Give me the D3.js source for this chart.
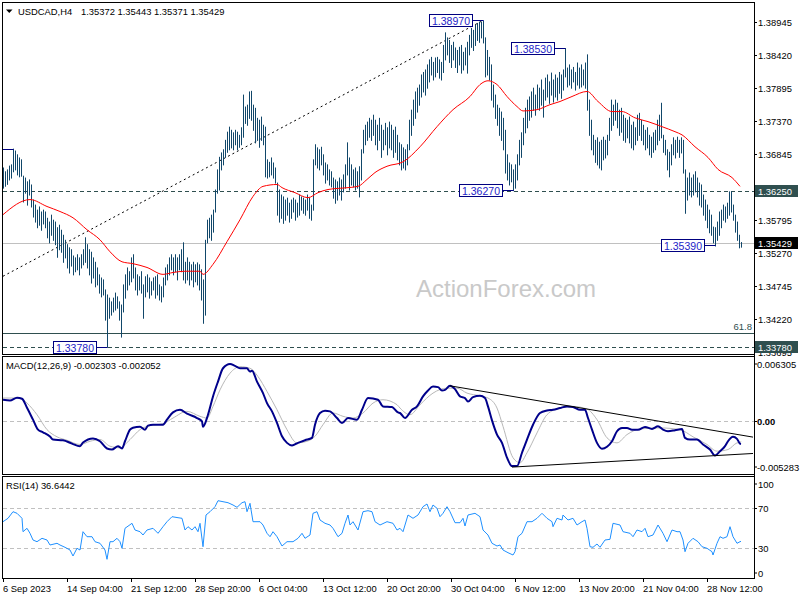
<!DOCTYPE html>
<html>
<head>
<meta charset="utf-8">
<script src="https://cdn.jsdelivr.net/npm/d3@7"></script>
<style>
  body { margin: 0; background: #fff; }
  svg { display: block; font-family: "Liberation Sans", Arial, sans-serif; }
</style>
</head>
<body>
<svg id="chart" width="800" height="600"></svg>
<script>
  var symbolName = 'USDCAD,H4';
  var lastQuote = '1.35372 1.35443 1.35371 1.35429';
  var macdTitle = 'MACD(12,26,9) -0.002303 -0.002052';
  var rsiTitle = 'RSI(14) 36.6442';

  // H4 bars from 6 Sep 2023 20:00, high / low in pips above 1.3000
  var highPips = [
    663,657,660,666,668,693,690,684,679,676, 650,647,641,644,636,612,604,596,601,593,
    596,593,583,577,588,580,577,568,572,564, 556,548,541,536,533,523,520,525,520,525,
    533,552,541,533,529,520,513,504,493,488, 485,469,461,456,450,456,464,458,450,445,
    477,493,504,498,520,525,504,493,490,498, 477,490,493,488,482,488,490,493,477,474,
    488,504,509,520,525,520,525,520,525,533, 544,513,520,513,509,513,509,512,509,501,
    485,548,580,583,588,596,628,660,680,687, 692,707,720,728,723,719,723,720,715,727,
    779,760,763,784,785,763,758,742,739,744, 731,728,676,672,679,671,663,639,628,620,
    617,612,615,607,612,615,612,607,620,617, 615,612,620,615,604,676,700,695,692,696,
    684,671,668,660,657,647,644,641,647,644, 652,668,703,679,668,660,663,657,665,692,
    723,731,736,742,739,747,739,731,742,731, 723,734,727,736,731,723,728,715,703,700,
    695,692,700,739,755,771,784,790,795,811, 815,819,827,835,839,831,838,839,835,831,
    858,878,870,866,858,863,854,850,855,858, 847,854,863,874,885,882,890,893,895,895,
    897,870,850,839,827,795,779,763,758,752, 742,723,684,671,668,660,668,684,707,719,
    742,758,771,776,784,790,779,795,790,803, 787,806,811,800,814,803,811,806,815,811,
    819,853,822,827,819,823,815,830,822,827, 819,830,843,771,739,715,707,711,704,707,
    712,707,715,742,771,763,771,766,755,758, 747,742,739,744,731,736,727,747,750,739,
    731,723,727,715,712,719,723,739,747,766, 715,707,692,688,700,711,707,712,707,711,
    707,660,647,655,647,652,657,647,639,636, 620,612,604,596,588,569,568,577,593,596,
    604,601,607,625,625,604,588,577,556,544.4
  ];
  var lowPips = [
    631,634,637,644,647,657,660,652,649,650, 609,623,604,620,601,585,577,568,572,564,
    574,568,552,544,556,548,541,521,533,529, 513,520,504,496,507,493,498,501,493,504,
    509,513,504,493,480,488,474,477,464,458, 461,421,378,424,429,434,437,440,421,394,
    434,456,469,477,482,488,469,461,469,464, 424,458,466,456,461,469,456,461,453,450,
    458,477,485,493,501,493,498,485,501,498, 485,480,485,477,485,474,482,477,469,453,
    416,429,544,552,548,561,593,623,628,660, 668,680,688,692,695,692,700,692,696,700,
    712,734,731,742,739,723,703,707,696,707, 700,649,647,649,652,647,639,588,577,583,
    575,580,588,577,583,593,580,585,588,596, 591,588,596,583,580,596,668,663,660,668,
    652,639,644,636,633,615,607,612,620,612, 625,631,652,628,636,633,628,631,617,644,
    687,700,707,712,707,715,700,692,707,680, 692,700,684,695,692,680,688,676,668,660,
    663,660,668,692,715,731,742,752,763,776, 784,779,790,800,811,803,808,815,806,803,
    815,835,843,831,823,835,823,815,827,814, 819,827,814,843,855,850,858,866,863,870,
    862,808,811,803,771,760,742,731,715,707, 692,655,644,636,641,627,631,644,668,680,
    700,719,727,739,744,755,747,758,755,763, 744,771,776,766,779,768,776,771,782,774,
    787,808,792,795,790,800,787,795,790,792, 795,790,755,715,692,684,672,668,663,660,
    676,679,684,707,723,731,739,727,715,720, 707,704,711,703,695,692,700,707,715,707,
    700,692,695,684,680,688,692,700,707,711, 688,684,660,649,668,684,679,688,680,687,
    655,591,612,620,617,620,625,617,604,601, 588,580,568,560,556,544,539,548,556,568,
    580,577,583,588,593,580,561,548,536,537.1
  ];

  // moving average, [bar, pips above 1.3000]
  var maPoints = [
    [0,588],[13.5,612],[22,601],[28.5,593],[35,583],[42,564],[48.5,548],[53.5,529],[59.5,513],
    [65,510],[72,504],[80,493],[85,496],[91,498],[98.5,498],[100,493],[105,509],[112,545],
    [118.5,580],[125,617],[130,633],[137,636],[139.5,631],[146,623],[152.5,615],[157.5,623],
    [162.5,628],[172.5,631],[177.5,633],[182,644],[186,655],[192,665],[200,672],[208.5,696],
    [217,728],[225,755],[233.5,776],[238.5,795],[242.5,801],[247,795],[252,776],[257,760],
    [260,753],[267,755],[273.5,763],[278.5,768],[284.5,776],[292,784],[297.5,768],[304.5,752],
    [309.5,752],[316,742],[322.5,736],[329.5,728],[336,720],[339.5,715],[346,696],[352.5,679],
    [357.5,660],[364.5,647],[368.5,633]
  ];

  var macdPoints = [
    [0,.00207],[3.5,.0020],[7,.00227],[9.5,.00217],[12,.00128],[15,.0001],[17.5,-.00089],
    [20,-.00115],[23.5,-.00158],[25,-.00187],[30,-.00194],[34.5,-.00227],[38.5,-.00253],
    [40,-.00217],[45,-.00177],[48.5,-.00204],[52,-.00276],[54.5,-.00286],[57.5,-.00253],
    [59.5,-.00276],[61,-.00204],[63.5,-.00089],[65,-.0007],[68.5,-.0006],[71,-.00089],
    [72.5,-.00049],[75,-.0004],[80,-.0004],[82,.0001],[85,.00082],[88.5,.00108],[92,.00069],
    [97,.00026],[99.5,-.00007],[100,-.0006],[102.5,.00059],[105,.0024],[107.5,.00387],
    [110,.00519],[113.5,.00561],[116,.00542],[118.5,.00519],[122,.00519],[123.5,.00486],
    [124.5,.00495],[127,.00387],[130,.00273],[132,.00174],[134.5,.00092],[137,-.00023],
    [139.5,-.00155],[142,-.0022],[144.5,-.00246],[147.5,-.0022],[151,-.00194],[154.5,-.0017],
    [156,-.0004],[158.5,.00076],[161,.00099],[163.5,.00092],[167,.00026],[169.5,-.00023],
    [172.5,.00026],[177,.0001],[179.5,.00108],[182.5,.00224],[187.5,.00207],[190,.00141],
    [194.5,.00135],[197.5,.00082],[198.5,.00076],[201,.00026],[204.5,.00108],[207,.00141],
    [210,.0024],[212.5,.00299],[215,.00338],[217.5,.00332],[219.5,.00299],[221,.00305],
    [223.5,.00345],[226,.00312],[228.5,.0024],[231,.00224],[232.5,.0019],[235,.00233],
    [238.5,.00246],[241,.00224],[242.5,.00141],[244.5,.00003],[247,-.00138],[249.5,-.0022],
    [252,-.00367],[254.5,-.0045],[257,-.0045],[259.5,-.00318],[262,-.00187],[265,-.0004],
    [268.5,.00076],[272,.00101],[275,.00108],[278.5,.00125],[282,.00141],[285,.00135],
    [288.5,.00108],[291,.00108],[292.5,.00026],[294.5,-.00089],[297,-.0022],[299.5,-.00279],
    [302,-.00259],[304.5,-.00204],[307,-.00105],[309.5,-.00072],[312,-.00072],[314.5,-.00089],
    [317.5,-.00089],[321,-.00062],[324.5,-.00082],[327.5,-.00056],[330,-.00089],[332.5,-.00105],
    [336,-.00095],[339.5,-.00082],[341,-.0017],[343.5,-.00187],[347,-.00187],[350,-.00236],
    [353.5,-.00286],[356,-.00345],[358.5,-.00302],[361,-.00253],[362.5,-.00204],[365,-.0016],
    [367,-.0018],[368.5,-.00227],[369,-.002303]
  ];
  var signalPoints = [
    [0,.00224],[8.5,.00224],[12,.00174],[17,.00059],[22,-.00089],[27,-.0016],[32,-.00194],
    [38.5,-.00236],[43.5,-.00204],[48.5,-.00187],[53.5,-.00253],[58.5,-.00269],[63.5,-.00187],
    [68.5,-.00089],[73.5,-.00049],[80,-.0003],[85,.00026],[92,.00092],[98.5,.00043],[102,.00026],
    [105,.00141],[108.5,.00305],[113.5,.0047],[118.5,.00535],[123.5,.00519],[127.5,.00437],
    [132,.00289],[137,.00108],[142,-.00089],[147,-.0022],[152,-.00204],[156,-.00155],[160,-.0004],
    [165,.00076],[170,.00043],[175,.00026],[180,.00076],[185,.00174],[190,.00207],[197,.00158],
    [198.5,.00125],[203.5,.00059],[208.5,.00158],[215,.00273],[222,.00322],[227,.00322],
    [232,.00273],[238.5,.00246],[242.5,.00224],[247,.00125],[250,-.00056],[255,-.00367],
    [258.5,-.00417],[262,-.00318],[267,-.00121],[272,.00059],[278.5,.00125],[285,.00141],
    [292,.00115],[297,.0001],[302,-.0017],[307,-.0022],[312,-.00138],[318.5,-.00082],
    [328.5,-.00072],[338.5,-.00089],[345,-.0016],[352,-.00236],[357,-.00302],[362.5,-.00286],
    [367,-.0022],[368.5,-.00214],[369,-.002052]
  ];

  var rsiPoints = [
    [0,56.3],[2.5,59.7],[5,66.3],[7,64.7],[9.5,59.7],[10,46.3],[12,49.7],[13.5,44.7],[15,38],
    [17,36.3],[19.5,39.7],[22,38],[23.5,33],[27,34.7],[28.5,33],[31,30.7],[33.5,28],[35,22],
    [37,29.7],[38.5,28],[40,46.3],[42,41.3],[44.5,41.3],[46,36.3],[48.5,34.7],[51,28],[52,18.7],
    [53.5,36.3],[55,36.3],[57,39.7],[58.5,36.3],[59.5,29.7],[61,49.7],[64.5,54.7],[66,48],
    [68.5,46.3],[70,43],[72,48],[75,49.7],[77.5,44.7],[80,51.3],[82,56.3],[84.5,61.3],[87.5,60.3],
    [89.5,59.7],[91,48],[92.5,51.3],[94.5,48],[96,51.3],[97.5,46.3],[98.5,54.7],[100,31.3],
    [101.5,63],[103.5,66.3],[106,71.3],[107.5,77.3],[110,76.3],[112.5,75.3],[115,73],[117,70.7],
    [119.5,75.3],[121,76.3],[122,66.3],[123.5,74.7],[125,56.3],[128.5,56.3],[130,53],[132,44.7],
    [133.5,41.3],[135,46.3],[137,41.3],[139.5,32],[142,36.3],[145,36.3],[147.5,39.7],[149.5,44.7],
    [151,39.7],[153.5,43],[155,64.7],[157,66.3],[158.5,58],[161,54.7],[163.5,53],[165,49.7],
    [167.5,41.3],[169.5,44.7],[171,54.7],[172.5,63],[173.5,53],[175,56.3],[177.5,48],[180,66.3],
    [182.5,67.3],[184.5,66.3],[186,56.3],[188.5,53],[192,56.3],[195,54.7],[197,48],[198.5,49.7],
    [200,46.3],[202.5,63],[205,59.7],[207.5,63],[210,71.3],[212,74],[213.5,66.3],[215,73],
    [217,69.7],[218.5,61.3],[220,64.7],[222,71.3],[223.5,66.3],[226,55.3],[228.5,55.3],[230,59.7],
    [231,52],[232.5,63],[236,64.7],[238.5,61.3],[240,48],[242.5,43],[244.5,34.7],[247,32],
    [248.5,33],[250,28],[252.5,25.3],[255,23],[256,26.3],[257.5,41.3],[259.5,44.7],[262,56.3],
    [264.5,56.3],[267,59.7],[269.5,64.7],[272,59.7],[274.5,56.3],[275,51.3],[277,59.7],[279.5,58],
    [280,63],[282.5,58],[285,59.7],[287,53],[289.5,56.3],[291,58],[292,49.7],[293.5,31.3],
    [295,30.7],[297,34],[298.5,30.7],[301,38],[303.5,38.7],[305,54.7],[308.5,53],[310,46.3],
    [313.5,44.7],[315,41.3],[317,48],[319.5,46.3],[321,49.7],[322.5,41.3],[325,43],[327.5,53],
    [330,44.7],[332,36.3],[334.5,48],[337,46.3],[338.5,46.3],[340,38],[341,26.3],[342.5,34.7],
    [345,39.7],[347.5,36.3],[349.5,31.3],[352,29.7],[354.5,26.3],[355,23],[357,34.7],[358.5,41.3],
    [360,39.7],[362,41.3],[363.5,51.3],[365,41.3],[367,34.7],[368.5,36.3],[369,36.64]
  ];

  // 1.36320 sits under the 1.36250 marker, so only its tick is drawn
  var priceTicks = [1.38945, 1.38420, 1.37895, 1.37370, 1.36845, 1.36320, 1.35795, 1.35270, 1.34745, 1.34220, 1.33695];
  var hiddenTicks = [1.36320];
  var timeLabels = ['6 Sep 2023', '14 Sep 04:00', '21 Sep 12:00', '28 Sep 20:00', '6 Oct 04:00', '13 Oct 12:00',
    '20 Oct 20:00', '30 Oct 04:00', '6 Nov 12:00', '13 Nov 20:00', '21 Nov 04:00', '28 Nov 12:00'];
  var barsPerLabel = 32;

  // swing labels: bar index and price
  var swingBars = [5, 52, 240, 255, 281, 356];
  var swingPrices = [1.36925, 1.33780, 1.38970, 1.36270, 1.38530, 1.35390];

  var dashedLevels = [1.36250, 1.33780];
  var fibLevel = 1.33997;
  var fibText = '61.8';
  var bidPrice = 1.35429;
  var trendPoints = [[0, 1.3490], [240, 1.3897]];
  var macdUpper = [[223.5, 0.00345], [375, -0.00163]];
  var macdLower = [[254.5, -0.0046], [375, -0.00325]];
  var macdLabels = [0.006305, 0, -0.005283];
  var rsiLevels = [70, 30];
  var rsiLabels = [100, 70, 30, 0];

  function pip(v) { return 1.3 + v / 10000; }

  var barColor = '#11476a';
  var slate = '#2f4f4f';

  var xBar = d3.scaleLinear().domain([0, 369]).range([3, 741]);
  var yPrice = d3.scaleLinear().domain([1.33695, 1.38945]).range([352, 22]);
  var yMacd = d3.scaleLinear().domain([-0.005283, 0.006305]).range([474, 357]);
  var yRsi = d3.scaleLinear().domain([0, 100]).range([578, 478]);

  var svg = d3.select('#chart');
  var defs = svg.append('defs');
  function addClip(id, y, h) {
    defs.append('clipPath').attr('id', id).append('rect')
      .attr('x', 3).attr('y', y).attr('width', 751).attr('height', h);
  }
  addClip('clip-main', 3, 351);
  addClip('clip-macd', 357, 117);
  addClip('clip-rsi', 477, 101);

  // watermark
  svg.append('text')
    .attr('x', 416).attr('y', 297)
    .style('font-size', '24px')
    .style('fill', '#c9c9c9')
    .text('ActionForex.com');

  var main = svg.append('g').attr('clip-path', 'url(#clip-main)');

  main.append('line')
    .attr('x1', xBar(trendPoints[0][0])).attr('y1', yPrice(trendPoints[0][1]))
    .attr('x2', xBar(trendPoints[1][0])).attr('y2', yPrice(trendPoints[1][1]))
    .attr('stroke', '#000').attr('stroke-dasharray', '2,3');

  main.selectAll('line.level').data(dashedLevels).enter().append('line')
    .attr('class', 'level')
    .attr('x1', 3).attr('x2', 754)
    .attr('y1', function(d) { return Math.round(yPrice(d)) + 0.5; })
    .attr('y2', function(d) { return Math.round(yPrice(d)) + 0.5; })
    .attr('stroke', slate).attr('stroke-dasharray', '4,3');

  main.append('line')
    .attr('x1', 3).attr('x2', 754)
    .attr('y1', Math.round(yPrice(fibLevel)) + 0.5).attr('y2', Math.round(yPrice(fibLevel)) + 0.5)
    .attr('stroke', slate);

  main.append('text')
    .attr('x', 752).attr('y', yPrice(fibLevel) - 3)
    .attr('text-anchor', 'end')
    .style('font-size', '9.5px').style('fill', slate)
    .text(fibText);

  main.append('line')
    .attr('x1', 3).attr('x2', 754)
    .attr('y1', Math.round(yPrice(bidPrice)) + 0.5).attr('y2', Math.round(yPrice(bidPrice)) + 0.5)
    .attr('stroke', '#c0c0c0');

  main.selectAll('line.bar').data(d3.range(highPips.length)).enter().append('line')
    .attr('class', 'bar')
    .attr('x1', function(i) { return Math.round(xBar(i)) + 0.5; })
    .attr('x2', function(i) { return Math.round(xBar(i)) + 0.5; })
    .attr('y1', function(i) { return yPrice(pip(highPips[i])); })
    .attr('y2', function(i) { return yPrice(pip(lowPips[i])) + 1; })
    .attr('stroke', barColor);

  main.append('path')
    .datum(maPoints)
    .attr('d', d3.line()
      .x(function(d) { return xBar(d[0]); })
      .y(function(d) { return yPrice(pip(d[1])); })
      .curve(d3.curveMonotoneX))
    .attr('fill', 'none').attr('stroke', '#ff0000').attr('stroke-width', 1);

  var swing = main.selectAll('g.swing').data(swingBars).enter().append('g')
    .attr('class', 'swing');
  swing.append('line')
    .attr('x1', function(d) { return Math.round(xBar(d)) - 10; })
    .attr('x2', function(d) { return Math.round(xBar(d)) + 0.5; })
    .attr('y1', function(d, i) { return Math.round(yPrice(swingPrices[i])) + 0.5; })
    .attr('y2', function(d, i) { return Math.round(yPrice(swingPrices[i])) + 0.5; })
    .attr('stroke', '#000080');
  // the box of a swing off the left edge is not shown, only its connector
  var shownSwing = swing.filter(function(d) { return xBar(d) - 53 > 3; });
  shownSwing.append('rect')
    .attr('x', function(d) { return Math.round(xBar(d)) - 53.5; })
    .attr('y', function(d) { return Math.round(yPrice(swingPrices[swingBars.indexOf(d)])) - 5.5; })
    .attr('width', 43).attr('height', 12)
    .attr('fill', '#fff').attr('stroke', '#000080');
  shownSwing.append('text')
    .attr('x', function(d) { return Math.round(xBar(d)) - 32; })
    .attr('y', function(d) { return Math.round(yPrice(swingPrices[swingBars.indexOf(d)])) + 4.5; })
    .attr('text-anchor', 'middle')
    .style('font-size', '10.5px').style('fill', '#2424c8')
    .text(function(d) { return swingPrices[swingBars.indexOf(d)].toFixed(5); });

  // MACD panel
  var macd = svg.append('g').attr('clip-path', 'url(#clip-macd)');
  macd.append('line')
    .attr('x1', 3).attr('x2', 754)
    .attr('y1', Math.round(yMacd(0)) + 0.5).attr('y2', Math.round(yMacd(0)) + 0.5)
    .attr('stroke', '#c0c0c0').attr('stroke-dasharray', '4,3');

  var pointLine = function(scale) {
    return d3.line()
      .x(function(d) { return xBar(d[0]); })
      .y(function(d) { return scale(d[1]); });
  };

  macd.append('path')
    .datum(signalPoints)
    .attr('d', pointLine(yMacd).curve(d3.curveMonotoneX))
    .attr('fill', 'none').attr('stroke', '#b8b8b8').attr('stroke-width', 1);
  macd.append('path')
    .datum(macdPoints)
    .attr('d', pointLine(yMacd).curve(d3.curveMonotoneX))
    .attr('fill', 'none').attr('stroke', '#00008b').attr('stroke-width', 2);
  macd.selectAll('path.trend').data([macdUpper, macdLower]).enter().append('path')
    .attr('class', 'trend')
    .attr('d', pointLine(yMacd))
    .attr('fill', 'none').attr('stroke', '#000').attr('stroke-width', 1);

  // RSI panel
  var rsi = svg.append('g').attr('clip-path', 'url(#clip-rsi)');
  rsi.selectAll('line.level').data(rsiLevels).enter().append('line')
    .attr('class', 'level')
    .attr('x1', 3).attr('x2', 754)
    .attr('y1', function(d) { return Math.round(yRsi(d)) + 0.5; })
    .attr('y2', function(d) { return Math.round(yRsi(d)) + 0.5; })
    .attr('stroke', '#c0c0c0').attr('stroke-dasharray', '4,3');
  rsi.append('path')
    .datum(rsiPoints)
    .attr('d', pointLine(yRsi))
    .attr('fill', 'none').attr('stroke', '#1e90ff').attr('stroke-width', 1);

  // frames
  svg.selectAll('rect.frame').data([[2.5, 352], [356.5, 118], [476.5, 102]]).enter().append('rect')
    .attr('class', 'frame')
    .attr('x', 2.5).attr('y', function(d) { return d[0]; })
    .attr('width', 752).attr('height', function(d) { return d[1]; })
    .attr('fill', 'none').attr('stroke', '#000');

  // titles
  svg.append('path').attr('d', 'M6,9.5 L12.5,9.5 L9.25,13 Z').attr('fill', '#000');
  var titleStyle = function(sel) { return sel.style('font-size', '9.4px').style('fill', '#000'); };
  svg.append('text').attr('x', 18).attr('y', 15).call(titleStyle).text(symbolName);
  svg.append('text').attr('x', 81).attr('y', 15).call(titleStyle).text(lastQuote);
  svg.append('text').attr('x', 6).attr('y', 369).call(titleStyle).text(macdTitle);
  svg.append('text').attr('x', 6).attr('y', 489).call(titleStyle).text(rsiTitle);

  // right axis
  var axis = svg.append('g').style('font-size', '9.4px');
  axis.selectAll('g.ptick').data(priceTicks).enter().append('g')
    .attr('class', 'ptick')
    .each(function(d) {
      var g = d3.select(this), y = Math.round(yPrice(d)) + 0.5;
      g.append('line').attr('x1', 754).attr('x2', 757).attr('y1', y).attr('y2', y).attr('stroke', '#000');
      if (hiddenTicks.indexOf(d) < 0) {
        g.append('text').attr('x', 758).attr('y', y + 3.5).text(d.toFixed(5));
      }
    });

  axis.selectAll('g.mtick').data(macdLabels).enter().append('g')
    .attr('class', 'mtick')
    .each(function(d, i) {
      var g = d3.select(this);
      var y = i === 0 ? 364 : (i === 2 ? 467 : Math.round(yMacd(d)) + 0.5);
      g.append('line').attr('x1', 754).attr('x2', 757).attr('y1', y).attr('y2', y).attr('stroke', '#000');
      var label = d === 0 ? '0.00' : String(d);
      var t = g.append('text').attr('x', 757).attr('y', y + 3.5).text(label);
      if (d === 0) t.style('font-weight', 'bold');
    });

  axis.selectAll('g.rtick').data(rsiLabels).enter().append('g')
    .attr('class', 'rtick')
    .each(function(d) {
      var g = d3.select(this);
      var y = d === 100 ? 484 : (d === 0 ? 573 : Math.round(yRsi(d)) + 0.5);
      g.append('line').attr('x1', 754).attr('x2', 757).attr('y1', y).attr('y2', y).attr('stroke', '#000');
      g.append('text').attr('x', 758).attr('y', y + 3.5).text(d);
    });

  // price markers on the axis
  var markers = [[dashedLevels[0], slate], [bidPrice, '#000'], [dashedLevels[1], slate]];
  axis.selectAll('g.marker').data(markers).enter().append('g')
    .attr('class', 'marker')
    .each(function(d) {
      var g = d3.select(this), y = Math.round(yPrice(d[0]));
      g.append('rect').attr('x', 755).attr('y', y - 6).attr('width', 43).attr('height', 12).attr('fill', d[1]);
      g.append('text').attr('x', 758).attr('y', y + 4).style('fill', '#fff').text(d[0].toFixed(5));
    });

  // time axis
  var timeAxis = svg.append('g').style('font-size', '9.4px');
  timeAxis.selectAll('g.ttick').data(timeLabels).enter().append('g')
    .attr('class', 'ttick')
    .each(function(d, i) {
      var g = d3.select(this), x = Math.round(xBar(i * barsPerLabel)) + 0.5;
      g.append('line').attr('x1', x).attr('x2', x).attr('y1', 578).attr('y2', 582).attr('stroke', '#000');
      g.append('text').attr('x', x - 0.5).attr('y', 592).text(d);
    });

  svg.append('line')
    .attr('x1', 754.5).attr('x2', 754.5).attr('y1', 2).attr('y2', 579)
    .attr('stroke', '#000');
</script>
</body>
</html>
